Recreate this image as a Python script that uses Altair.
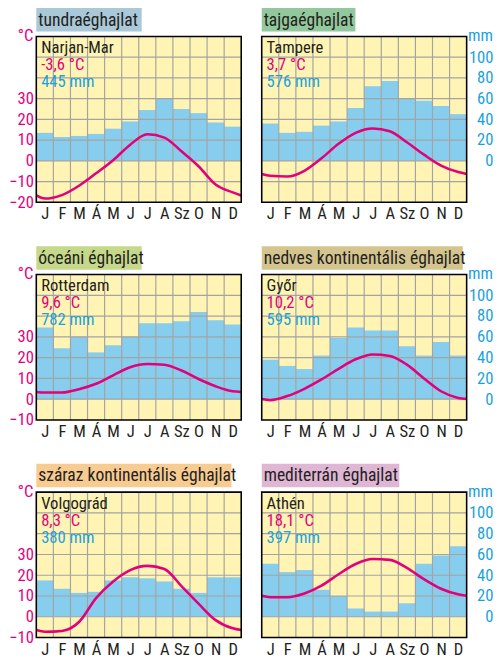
import json
import altair as alt
import pandas as pd

# ---------------- data ----------------
MONTHS = ["J", "F", "M", "Á", "M", "J", "J", "A", "Sz", "O", "N", "D"]

TITLES = ["tundraéghajlat", "tajgaéghajlat", "óceáni éghajlat",
          "nedves kontinentális éghajlat", "száraz kontinentális éghajlat",
          "mediterrán éghajlat"]
CITIES = ["Narjan-Mar", "Tampere", "Rotterdam", "Győr", "Volgográd", "Athén"]
ANNUAL_T = [-3.6, 3.7, 9.6, 10.2, 8.3, 18.1]
ANNUAL_P = [445, 576, 782, 595, 380, 397]

TEMP_NARJAN = [-18.2, -16.5, -12.0, -6.0, 0.3, 7.8, 12.8, 11.2, 4.6, -2.6, -11.4, -15.2]
TEMP_TAMPERE = [-7.2, -7.6, -4.8, 1.2, 8.2, 13.5, 15.6, 14.3, 9.0, 3.0, -2.3, -5.4]
TEMP_ROTTERDAM = [3.2, 3.2, 4.8, 7.4, 11.5, 15.4, 16.9, 16.6, 13.8, 9.7, 6.2, 3.8]
TEMP_GYOR = [-0.5, 1.5, 5.0, 9.5, 14.6, 19.2, 21.5, 20.8, 16.6, 10.0, 3.8, 0.6]
TEMP_VOLGOGRAD = [-7.2, -6.8, -2.5, 9.0, 17.0, 22.5, 24.5, 23.0, 14.8, 6.3, -1.6, -5.5]
TEMP_ATHEN = [9.4, 9.4, 11.2, 15.0, 20.5, 25.4, 27.8, 27.4, 23.5, 18.1, 13.5, 10.8]

PREC_NARJAN = [27, 23, 24, 26, 31, 38, 49, 60, 50, 46, 37, 33]
PREC_TAMPERE = [36, 27, 28, 34, 38, 51, 72, 77, 60, 58, 53, 45]
PREC_ROTTERDAM = [69, 49, 60, 45, 52, 60, 73, 73, 75, 84, 76, 72]
PREC_GYOR = [38, 32, 29, 42, 59, 69, 66, 66, 51, 42, 55, 42]
PREC_VOLGOGRAD = [35, 27, 23, 24, 35, 38, 37, 34, 27, 23, 38, 38]
PREC_ATHEN = [51, 43, 45, 26, 20, 8, 5, 5, 13, 51, 59, 68]

TEMPS = [TEMP_NARJAN, TEMP_TAMPERE, TEMP_ROTTERDAM, TEMP_GYOR, TEMP_VOLGOGRAD, TEMP_ATHEN]
PRECS = [PREC_NARJAN, PREC_TAMPERE, PREC_ROTTERDAM, PREC_GYOR, PREC_VOLGOGRAD, PREC_ATHEN]
Y_MIN = [-20, -20, -10, -10, -10, -10]

# ---------------- style ----------------
TITLE_BG = ["#A9C8D8", "#92C89B", "#C6D98A", "#D4C48E", "#F8CB90", "#E0B6D5"]
TITLE_W = [108, 96, 108, 206, 200, 141]
FONT = "Roboto Condensed, Liberation Sans Narrow, Liberation Sans, sans-serif"
MAG = "#E3007B"
BLUE_TXT = "#1BA1DE"
BAR_BLUE = "#86CDEE"
YELLOW = "#FFF4B4"
GRID = "#A3A3A3"
INK = "#231F20"
W = 210
UNIT = 2.13
MM_PAD = 27


def panel(i, side):
    ymin = Y_MIN[i]
    H = round((60 - ymin) * UNIT)
    temps, precs = TEMPS[i], PRECS[i]
    xs = alt.Scale(domain=[0, 12], nice=False, zero=False)
    ys = alt.Scale(domain=[ymin, 60], nice=False, zero=False)

    month_expr = json.dumps(MONTHS, ensure_ascii=False) + "[floor(datum.value)]"
    xaxis = alt.Axis(values=[k + 0.5 for k in range(12)], labelExpr=month_expr,
                     domain=False, ticks=False, grid=False, labelPadding=4,
                     labelFont=FONT, labelFontSize=17, labelColor=INK, title=None,
                     labelAngle=0)
    if side == "left":
        yaxis = alt.Axis(orient="left", values=list(range(ymin, 31, 10)), domain=False,
                         ticks=False, grid=False, labelPadding=3, labelFont=FONT,
                         labelFontSize=17, labelColor=MAG, title=None)
    else:
        yaxis = alt.Axis(orient="right", values=[0, 10, 20, 30, 40, 50],
                         labelExpr="format(datum.value * 2, 'd')", labelAlign="right",
                         domain=False, ticks=False, grid=False, labelPadding=MM_PAD,
                         labelFont=FONT, labelFontSize=17, labelColor=BLUE_TXT, title=None)

    bars = pd.DataFrame({"m": list(range(12)), "p": precs})
    bars["m2"] = bars["m"] + 1
    bars["pc"] = bars["p"] / 2.0
    bar_layer = alt.Chart(bars).mark_rect(color=BAR_BLUE).encode(
        x=alt.X("m:Q", scale=xs, axis=xaxis), x2="m2:Q",
        y=alt.Y("pc:Q", scale=ys, axis=yaxis), y2=alt.datum(0))

    hgrid = alt.Chart(pd.DataFrame({"v": list(range(ymin + 10, 60, 10))})).mark_rule(
        color=GRID, strokeWidth=1.2).encode(y=alt.Y("v:Q", scale=ys, axis=yaxis))
    vgrid = alt.Chart(pd.DataFrame({"v": list(range(1, 12))})).mark_rule(
        color=GRID, strokeWidth=1.2).encode(x=alt.X("v:Q", scale=xs, axis=xaxis))

    edge = (temps[0] + temps[-1]) / 2.0
    line_df = pd.DataFrame({"x": [0.0] + [k + 0.5 for k in range(12)] + [12.0],
                            "t": [edge] + temps + [edge]})
    line = alt.Chart(line_df).mark_line(color=MAG, strokeWidth=2.6,
                                        interpolate="monotone").encode(
        x=alt.X("x:Q", scale=xs, axis=xaxis), y=alt.Y("t:Q", scale=ys, axis=yaxis))

    one = pd.DataFrame({"a": [0]})
    border = alt.Chart(one).mark_rect(fillOpacity=0, stroke="black", strokeWidth=1.6).encode(
        x=alt.value(0), x2=alt.value(W), y=alt.value(0), y2=alt.value(H))

    tbox = alt.Chart(one).mark_rect(color=TITLE_BG[i]).encode(
        x=alt.value(0), x2=alt.value(TITLE_W[i]), y=alt.value(-29), y2=alt.value(-5))
    ttext = alt.Chart(pd.DataFrame({"s": [TITLES[i]]})).mark_text(
        align="left", baseline="alphabetic", font=FONT, fontSize=18, color=INK).encode(
        x=alt.value(2), y=alt.value(-11), text="s:N")

    t_str = f"{ANNUAL_T[i]:.1f}".replace(".", ",") + " °C"
    p_str = f"{ANNUAL_P[i]} mm"
    info = pd.DataFrame({"s": [CITIES[i], t_str, p_str], "k": ["city", "t", "p"]})
    txt_city = alt.Chart(info).transform_filter("datum.k == 'city'").mark_text(
        align="left", baseline="alphabetic", font=FONT, fontSize=17, color=INK).encode(
        x=alt.value(5), y=alt.value(17), text="s:N")
    txt_t = alt.Chart(info).transform_filter("datum.k == 't'").mark_text(
        align="left", baseline="alphabetic", font=FONT, fontSize=17, color=MAG).encode(
        x=alt.value(5), y=alt.value(34.5), text="s:N")
    txt_p = alt.Chart(info).transform_filter("datum.k == 'p'").mark_text(
        align="left", baseline="alphabetic", font=FONT, fontSize=17, color=BLUE_TXT).encode(
        x=alt.value(5), y=alt.value(52), text="s:N")

    if side == "left":
        unit = alt.Chart(pd.DataFrame({"s": ["°C"]})).mark_text(
            align="right", baseline="middle", font=FONT, fontSize=17, color=MAG).encode(
            x=alt.value(-3), y=alt.value(0), text="s:N")
    else:
        unit = alt.Chart(pd.DataFrame({"s": ["mm"]})).mark_text(
            align="right", baseline="middle", font=FONT, fontSize=17, color=BLUE_TXT).encode(
            x=alt.value(W + MM_PAD), y=alt.value(0), text="s:N")

    return alt.layer(bar_layer, hgrid, vgrid, line, border, tbox, ttext,
                     txt_city, txt_t, txt_p, unit).properties(width=W, height=H)


rows = []
for r in range(3):
    rows.append(alt.hconcat(panel(2 * r, "left"), panel(2 * r + 1, "right"), spacing=9))

chart = alt.vconcat(*rows, spacing=25).properties(
    padding={"left": 0, "top": -8, "right": 0, "bottom": 0}
).configure_view(fill=YELLOW, strokeWidth=0)

chart.save("out.html", embed_options={"renderer": "svg", "actions": False})
